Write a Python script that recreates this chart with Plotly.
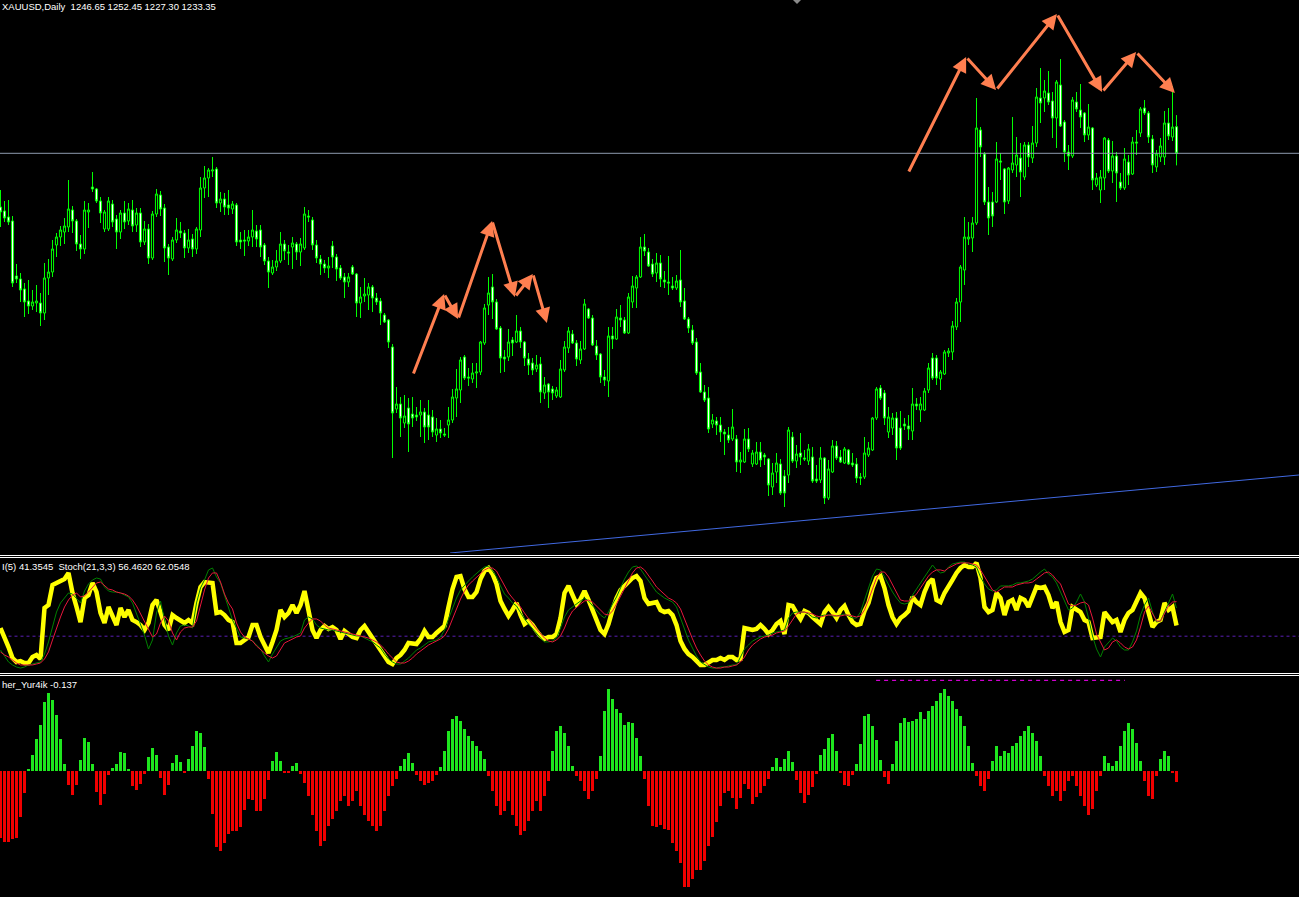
import plotly.graph_objects as go

# ---------------- price data (daily bars) ----------------
opens = [
1206.5,1204.5,1201.5,1199.5,1172,1170.5,1165.5,1159.5,1157,1158.5,
1158.5,1153.5,1171,1174,1187.5,1191.5,1194,1196.5,1205,1199.5,
1188,1185.5,1204,1216.5,1215.5,1209.5,1195.5,1195.5,1208,1200.5,
1194,1203.5,1199.5,1205,1197.5,1203.5,1189,1195.5,1181,1203,
1212.5,1206,1186.5,1180.5,1190,1194.5,1193.5,1186,1190.5,1185.5,
1195,1216,1221,1224.5,1225.5,1208.5,1210.5,1207.5,1205.5,1207.5,
1190,1190,1189.5,1191.5,1194.5,1195,1187.5,1179.5,1173.5,1176.5,
1179.5,1188,1184,1186.5,1188,1184,1186,1202,1200,1187.5,
1180.5,1178,1176,1187,1181.5,1176,1171.5,1169,1176.5,1173,
1158.5,1162,1162.5,1166.5,1161,1159.5,1152.5,1150,1136.5,1105.5,
1108,1098.5,1106,1103,1102.5,1102.5,1104,1102.5,1101.5,1092.5,
1095.5,1093,1097.5,1100,1111,1115,1131.5,1121.5,1120.5,1123.5,
1124,1138.5,1157.5,1166.5,1159,1146,1131.5,1131.5,1140,1139,
1144.5,1139,1130.5,1128.5,1125.5,1128,1113.5,1118,1115.5,1112,
1111.5,1125,1136,1143,1138.5,1130,1135.5,1155.5,1151,1137,
1133,1121.5,1119.5,1142,1140.5,1151,1150,1143.5,1159,1166,
1171.5,1186.5,1184,1178,1173.5,1178.5,1170,1169,1167,1166,
1170,1159.5,1150.5,1145,1139,1124,1114,1111,1098,1099.5,
1097.5,1094,1092.5,1090.5,1090.5,1079,1079,1090.5,1078,1078,
1084,1082.5,1080.5,1066.5,1074,1078,1072,1072.5,1091.5,1079.5,
1083.5,1081,1079.5,1081.5,1070.5,1070,1081,1061,1074,1087,
1081.5,1078.5,1085,1078.5,1078,1071.5,1071.5,1082.5,1085,1101,
1116,1113.5,1094,1096,1101,1096,1098,1097,1094.5,1108,
1105,1105,1115,1131,1131,1120.5,1123,1133.5,1134,1146.5,
1159,1175,1190.5,1191,1198.5,1245,1233,1209,1209,1209,
1229.5,1225.5,1209.5,1225,1227.5,1231,1221.5,1237.5,1231,1238.5,
1261,1261,1263.5,1259.5,1251,1267.5,1249,1234,1232,1259,
1255,1253.5,1242.5,1246,1217.5,1215,1221,1240,1224.5,1232,
1219,1216,1229,1223,1239,1243.5,1256,1253.5,1240.5,1226.5,
1231.5,1231.5,1248.5,1241.5,1246.65]
highs = [
1215,1209.5,1210,1202,1178,1173.5,1168.5,1170,1165,1167.5,
1163.5,1178.5,1180.5,1190,1193.5,1197,1201,1220,1207,1200.5,
1192.5,1209.5,1208.5,1224,1216,1211.5,1205,1211.5,1210,1202.5,
1205,1209.5,1208.5,1210,1206,1206,1199.5,1198,1204.5,1215.5,
1214.5,1208,1188,1191.5,1201,1199,1195,1195.5,1193,1196.5,
1221.5,1227,1226,1231.5,1226.5,1214,1213.5,1215,1209.5,1208.5,
1194,1195,1195,1205,1197.5,1197.5,1188.5,1181.5,1180,1185,
1194,1190,1187.5,1191.5,1189,1191,1206.5,1205,1201.5,1190,
1182.5,1180,1181.5,1189.5,1183,1177.5,1173.5,1173.5,1177.5,1173.5,
1166.5,1171,1168.5,1167.5,1163.5,1161,1153.5,1150.5,1138,1116.5,
1111.5,1112.5,1111,1111.5,1106.5,1110,1106,1110,1105,1101,
1100,1096,1106.5,1115.5,1125.5,1131.5,1132.5,1126,1128.5,1128.5,
1139.5,1158,1171.5,1173,1160.5,1147,1135,1145.5,1141.5,1152.5,
1146.5,1139.5,1133.5,1131,1132.5,1131.5,1121.5,1118.5,1117,1116.5,
1130,1139.5,1146.5,1145,1140,1139.5,1160.5,1156,1152.5,1140,
1133.5,1125,1146.5,1146.5,1155.5,1157.5,1151.5,1163.5,1172,1172.5,
1191.5,1193,1186,1180.5,1183.5,1182.5,1174.5,1182,1171.5,1172.5,
1185,1166,1151.5,1147.5,1141,1128.5,1117.5,1116.5,1103,1101.5,
1101.5,1095.5,1096.5,1105.5,1092.5,1084,1095.5,1096,1085,1089,
1089,1083.5,1081,1078.5,1083.5,1080.5,1075,1096.5,1094,1087.5,
1093.5,1085,1088,1086.5,1077.5,1086.5,1081.5,1080,1090,1089.5,
1085,1086.5,1085.5,1083.5,1081,1073.5,1091.5,1089,1101.5,1116.5,
1117.5,1115,1106.5,1103.5,1104,1104.5,1101,1102.5,1116,1111,
1111.5,1116,1128.5,1133.5,1132.5,1125,1135,1136,1149.5,1161,
1177.5,1201.5,1199,1201.5,1261,1246.5,1234,1216.5,1214,1239,
1233.5,1226,1226.5,1251.5,1241.5,1238.5,1239,1239,1247,1266,
1276,1270,1274.5,1264,1270,1280.5,1250,1237.5,1261.5,1264,
1268,1254,1258,1246.5,1223.5,1225,1241.5,1241,1239.5,1234,
1223.5,1236,1232.5,1241.5,1245,1256.5,1260,1254.5,1242.5,1235,
1241,1254.5,1256,1267,1252.45]
lows = [
1196.5,1199,1197.5,1166.5,1168.5,1159,1151.5,1153,1155,1154,
1147,1150,1162.5,1171.5,1181.5,1187,1188,1194,1193.5,1184.5,
1180.5,1183,1196,1214,1208.5,1198.5,1194,1194.5,1196.5,1185.5,
1190.5,1195.5,1197.5,1194,1194,1186.5,1187.5,1178,1180,1201.5,
1202,1179,1172.5,1179.5,1188.5,1191,1181,1183.5,1181.5,1183,
1191.5,1211,1211.5,1221.5,1206,1204,1202.5,1202.5,1203,1187,
1185.5,1182,1187,1186.5,1186.5,1181.5,1177.5,1166,1172.5,1174.5,
1178.5,1180,1177.5,1175.5,1180,1177,1185,1199,1185,1178.5,
1172.5,1173.5,1171,1176,1169.5,1170,1161,1166.5,1172.5,1151.5,
1151,1159,1155,1154,1157.5,1147.5,1148.5,1136,1081,1103.5,
1091.5,1096,1084,1096.5,1099.5,1091.5,1088.5,1090,1091.5,1089,
1091,1091.5,1091,1098.5,1101.5,1108.5,1120,1117,1118.5,1116,
1122.5,1137.5,1152.5,1150.5,1145,1123.5,1124,1129.5,1132,1138.5,
1136,1127,1122.5,1122.5,1124,1108.5,1110.5,1106,1110,1111,
1111,1124,1133.5,1138,1127,1128,1135,1150.5,1137,1130,
1118.5,1117,1111.5,1135.5,1140,1146.5,1143,1143,1156,1156,
1171,1182,1176.5,1171.5,1169,1166.5,1166,1162.5,1165,1165,
1156.5,1150,1143.5,1137.5,1122.5,1113.5,1109,1093.5,1096,1092.5,
1089,1082.5,1088.5,1089.5,1074,1073.5,1078.5,1084,1076.5,1077.5,
1076.5,1077.5,1062,1062.5,1068.5,1062.5,1056.5,1068.5,1078.5,1076,
1077.5,1079.5,1077.5,1068.5,1068.5,1068.5,1058,1060,1073.5,1080,
1078.5,1078,1077.5,1076.5,1068.5,1067.5,1070.5,1081.5,1084.5,1100,
1110,1097.5,1091,1092.5,1080,1085,1095,1090,1090,1105,
1099,1104.5,1113.5,1120,1117.5,1115,1122.5,1131.5,1130,1145,
1149,1167.5,1187.5,1184,1197.5,1231.5,1207.5,1192.5,1196.5,1208.5,
1220,1203,1208,1223.5,1221.5,1211.5,1220,1226.5,1228.5,1236.5,
1248.5,1254,1257.5,1241,1236,1246.5,1229,1225,1231,1254,
1246,1239,1240,1215,1216.5,1208.5,1215,1223.5,1218.5,1209,
1215,1215,1217.5,1222.5,1232.5,1241.5,1252.5,1238.5,1223.5,1224,
1229,1227.5,1240,1239.5,1227.30]
closes = [
1204,1201,1199,1168.5,1170.5,1165,1159,1157,1159,1159.5,
1153.5,1171,1174,1185.5,1191.5,1195,1197,1205.5,1199.5,1188,
1185.5,1205,1205,1215.5,1209.5,1203.5,1204,1209.5,1199,1194,
1203.5,1199,1205.5,1197,1203.5,1189,1195.5,1181,1203,1213,
1205.5,1186,1181,1190,1195,1193.5,1186,1190,1185.5,1195.5,
1216,1221,1225,1225,1208.5,1210.5,1206.5,1206,1208,1189,
1189,1189.5,1191.5,1195,1190.5,1186.5,1179.5,1174,1176.5,1179.5,
1188,1184.5,1183.5,1188.5,1184,1188,1203,1201.5,1187.5,1181,
1178,1176,1177,1181.5,1175.5,1171,1169,1171.5,1173,1158.5,
1161.5,1163,1166.5,1161,1159,1153.5,1149,1139,1103.5,1108,
1101,1102,1098,1101,1101.5,1104,1096.5,1096.5,1094,1095.5,
1093.5,1092.5,1100,1111.5,1115.5,1130,1121,1121,1123.5,1124,
1139,1156,1163.5,1159,1145.5,1131,1130.5,1139,1138.5,1144.5,
1139,1131,1127.5,1125,1127.5,1114,1117.5,1114,1113.5,1115,
1125.5,1136.5,1144.5,1138.5,1130.5,1135.5,1158,1151,1137.5,1132.5,
1121.5,1120,1142,1140.5,1151.5,1150,1143.5,1161.5,1167,1171.5,
1186.5,1184.5,1177,1173,1178.5,1170.5,1169,1168.5,1166,1169.5,
1159,1150.5,1146,1138.5,1123.5,1114,1110,1095.5,1100,1097.5,
1094,1093,1090,1096.5,1079,1080,1090.5,1085.5,1083.5,1084,
1080,1081.5,1067.5,1073.5,1078.5,1063.5,1063.5,1095,1079.5,1083,
1081.5,1080.5,1085.5,1069.5,1069.5,1081,1061,1075.5,1087,1081,
1079,1085.5,1078,1077.5,1071,1071,1083.5,1086,1101,1115.5,
1111,1101,1101.5,1101,1086,1086,1097,1095.5,1108,1107,
1108,1114.5,1126,1121,1121,1124,1134,1134.5,1147,1159,
1176.5,1191.5,1191.5,1198.5,1246,1236.5,1209,1201,1202,1230.5,
1229,1209,1226,1228.5,1232.5,1224,1237.5,1231.5,1238.5,1261.5,
1258.5,1264.5,1259,1251,1269,1247,1234,1232,1260,1255.5,
1251.5,1242.5,1246.5,1220,1221,1221.5,1241,1224.5,1232,1223.5,
1216,1230.5,1222.5,1239,1238.5,1255.5,1253.5,1241.5,1227.5,1233,
1237,1248.5,1242,1246.5,1233.35]

# ---------------- oscillator window: RSI(5) + Stoch(21,3,3) ----------------
rsi = [
39.1,31.3,22.6,13.0,9.6,10.4,8.7,8.7,13.9,15.7,
12.2,56.5,59.1,76.5,78.3,80.9,81.7,87.0,69.6,57.4,
44.3,65.2,67.8,78.3,70.4,52.2,43.5,57.4,50.4,41.7,
56.5,48.7,54.8,46.1,44.3,41.7,37.4,43.5,59.1,63.5,
53.0,41.7,37.4,50.4,47.8,46.1,43.5,46.1,43.5,60.9,
74.8,79.1,79.1,78.3,52.2,53.0,50.4,46.1,44.3,26.1,
26.1,28.7,31.3,41.7,41.7,31.3,24.3,17.4,27.0,37.4,
54.8,48.7,52.2,59.1,52.2,59.1,71.3,53.9,37.4,30.4,
37.4,40.9,38.3,40.0,37.4,29.6,36.5,33.9,31.3,30.4,
37.4,40.9,35.7,30.4,26.1,20.0,15.7,9.6,7.8,13.0,
15.7,20.0,26.1,26.1,25.2,29.6,36.5,31.3,31.3,34.8,
37.4,40.9,57.4,73.0,83.5,84.3,73.0,66.1,66.1,70.4,
81.7,88.7,91.3,86.1,77.4,62.6,55.7,49.6,54.8,60.9,
50.4,42.6,45.2,41.7,36.5,32.2,29.6,31.3,31.3,33.9,
47.8,69.6,75.7,67.8,60.0,64.3,71.3,63.5,54.8,47.8,
37.4,33.9,42.6,54.8,65.2,72.2,75.7,79.1,82.6,84.3,
80.0,65.2,60.0,60.9,61.7,54.8,53.0,53.9,50.4,41.7,
27.8,20.9,16.5,13.9,10.4,7.0,7.0,9.6,11.3,11.3,
13.0,11.3,13.9,13.9,11.3,12.2,39.1,38.3,37.4,38.3,
41.7,38.3,33.9,37.4,42.6,45.2,33.9,59.1,58.3,52.2,
47.0,53.9,52.2,48.7,45.2,42.6,53.0,57.4,53.0,47.8,
54.8,58.3,50.4,44.3,41.7,42.6,53.9,60.9,73.9,82.6,
84.3,73.9,59.1,48.7,42.6,47.8,50.4,53.9,66.1,61.7,
59.1,70.4,78.3,81.7,63.5,61.7,69.6,74.8,80.9,87.0,
91.3,93.9,92.2,92.2,95.7,82.6,57.4,53.0,54.8,69.6,
65.2,50.4,61.7,63.5,54.8,65.2,63.5,57.4,66.1,74.8,
73.9,74.8,67.8,56.5,61.7,44.3,35.7,37.4,57.4,54.8,
53.0,46.1,44.3,30.4,30.4,31.3,53.0,48.7,44.3,46.1,
35.7,46.1,52.2,54.8,63.5,69.6,65.2,53.0,40.0,44.3,
46.1,60.9,54.8,57.4,41.3545]
stoch_main = [
20.0,14.8,9.6,7.0,5.2,4.3,5.2,7.0,7.8,8.7,
9.6,16.5,27.0,40.0,53.0,60.9,65.2,69.6,68.7,65.2,
60.9,71.3,77.4,80.9,82.6,81.7,74.8,71.3,70.4,70.4,
69.6,67.8,66.1,60.9,51.3,42.6,33.0,20.9,28.7,52.2,
62.6,46.1,32.2,24.3,34.8,40.9,41.7,40.9,39.1,60.9,
73.9,80.9,89.6,91.3,83.5,78.3,67.0,56.5,46.1,39.1,
31.3,30.4,29.6,27.8,24.3,20.9,14.8,9.6,16.5,22.6,
27.8,29.6,30.4,31.3,33.0,34.8,46.1,48.7,47.0,41.7,
39.1,38.3,37.4,37.4,36.5,35.7,34.8,33.9,33.0,32.2,
32.2,30.4,28.7,27.0,24.3,21.7,16.5,12.2,9.6,7.8,
7.8,10.4,13.0,16.5,20.0,21.7,24.3,27.0,27.8,28.7,
31.3,37.4,47.0,56.5,65.2,72.2,76.5,80.0,83.5,87.0,
89.6,92.2,93.0,88.7,83.5,75.7,68.7,65.2,60.9,58.3,
52.2,47.0,42.6,38.3,33.9,30.4,27.0,27.0,27.8,30.4,
39.1,48.7,54.8,57.4,60.0,62.6,65.2,62.6,58.3,54.8,
50.4,47.8,53.0,60.0,66.1,73.9,81.7,87.8,92.2,93.0,
90.4,85.2,80.0,74.8,70.4,67.8,65.2,63.5,61.7,57.4,
47.8,37.4,28.7,21.7,14.8,9.6,7.0,5.2,4.3,4.3,
5.2,5.2,6.1,7.0,7.0,13.9,20.9,24.3,27.8,29.6,
31.3,32.2,33.0,34.8,35.7,36.5,37.4,47.8,52.2,53.0,
53.0,53.0,51.3,48.7,47.8,49.6,50.4,50.4,49.6,49.6,
50.4,51.3,49.6,47.8,47.8,53.0,63.5,73.9,84.3,90.4,
89.6,83.5,76.5,70.4,65.2,60.9,60.0,60.9,67.8,73.0,
79.1,84.3,89.6,93.9,89.6,87.0,87.8,92.2,94.8,95.7,
96.5,96.5,94.8,93.9,92.2,83.5,77.4,73.0,71.3,72.2,
75.7,75.7,75.7,76.5,78.3,78.3,79.1,80.0,81.7,85.2,
87.8,90.4,86.1,83.5,78.3,70.4,62.6,54.8,56.5,61.7,
68.7,61.7,47.8,32.2,20.9,13.9,22.6,27.0,30.4,27.8,
22.6,20.0,20.0,27.0,36.5,50.4,59.1,65.2,53.0,44.3,
45.2,53.0,60.9,68.7,56.462]
stoch_signal = [
18.3,15.7,13.9,11.3,8.7,7.0,7.0,7.0,7.0,7.8,
8.7,12.2,18.3,28.7,39.1,48.7,57.4,63.5,67.8,69.6,
66.1,67.0,70.4,74.8,78.3,79.1,75.7,73.0,72.2,70.4,
69.6,68.7,67.0,63.5,58.3,51.3,44.3,37.4,31.3,33.9,
43.5,49.6,45.2,34.8,28.7,35.7,39.1,40.0,40.0,45.2,
58.3,72.2,82.6,87.0,87.0,79.1,68.7,60.9,55.7,43.5,
35.7,31.3,29.6,27.8,23.5,20.0,17.4,14.8,13.0,14.8,
20.0,26.1,27.8,29.6,31.3,32.2,39.1,43.5,47.0,47.0,
45.2,41.7,39.1,38.3,37.4,36.5,35.7,34.8,33.9,33.0,
32.2,31.3,30.4,28.7,27.0,24.3,20.9,16.5,13.0,9.6,
8.7,8.7,10.4,13.0,16.5,19.1,21.7,24.3,26.1,27.8,
29.6,32.2,38.3,47.0,56.5,64.3,71.3,76.5,80.0,83.5,
87.0,89.6,91.3,91.3,88.7,82.6,75.7,69.6,65.2,61.7,
57.4,52.2,47.0,42.6,38.3,33.9,30.4,27.8,27.0,28.7,
32.2,39.1,47.8,53.9,57.4,60.0,62.6,63.5,61.7,58.3,
54.8,51.3,50.4,53.9,60.0,67.0,73.9,80.9,87.0,91.3,
92.2,89.6,85.2,80.0,74.8,71.3,67.8,65.2,63.5,60.9,
55.7,47.8,38.3,29.6,21.7,15.7,10.4,7.0,5.2,4.3,
4.3,5.2,5.2,6.1,7.0,9.6,13.9,20.0,24.3,27.0,
29.6,31.3,32.2,33.0,34.8,35.7,36.5,40.9,46.1,51.3,
53.0,53.0,52.2,51.3,49.6,48.7,49.6,50.4,50.4,49.6,
49.6,50.4,50.4,49.6,48.7,49.6,54.8,63.5,73.9,82.6,
87.8,87.8,83.5,76.5,70.4,63.5,62.6,62.6,65.2,68.7,
73.9,79.1,84.3,87.8,89.6,89.6,88.7,91.3,93.0,94.8,
95.7,95.7,95.7,94.8,93.9,89.6,83.5,77.4,72.2,70.4,
73.0,74.8,74.8,74.8,76.5,77.4,78.3,78.3,79.1,81.7,
84.3,87.0,87.8,85.2,80.9,77.4,68.7,60.0,58.3,59.1,
60.9,61.7,59.1,47.8,33.9,27.0,20.0,21.7,27.0,28.7,
26.1,22.6,20.9,22.6,28.7,40.0,53.0,58.3,52.2,45.2,
45.2,51.3,58.3,61.7,62.0548]
osc_level = 32

# ---------------- Fisher_Yur4ik histogram ----------------
fisher = [
-0.84,-0.89,-0.89,-0.86,-0.84,-0.575,-0.275,0.025,0.2,0.4,
0.575,0.86,0.975,0.89,0.7,0.4,0.09,-0.175,-0.3,-0.175,
0.14,0.41,0.36,0.09,-0.26,-0.425,-0.29,-0.05,0.04,0.09,
0.24,0.225,0.025,-0.19,-0.24,-0.16,-0.04,0.175,0.29,0.2,
-0.09,-0.3,-0.175,0.1,0.2,0.11,-0.025,0.15,0.31,0.5,
0.475,0.3,-0.1,-0.54,-0.96,-1.01,-0.9,-0.79,-0.76,-0.76,
-0.71,-0.49,-0.35,-0.36,-0.5,-0.5,-0.35,-0.11,0.125,0.24,
0.125,-0.025,-0.025,0.06,0.1,-0.04,-0.15,-0.31,-0.56,-0.75,
-0.94,-0.875,-0.69,-0.6,-0.5,-0.375,-0.31,-0.44,-0.375,-0.25,
-0.44,-0.56,-0.625,-0.69,-0.75,-0.69,-0.5,-0.31,-0.19,-0.1,
0.06,0.15,0.225,0.1,-0.05,-0.125,-0.175,-0.15,-0.125,-0.05,
0.05,0.25,0.5,0.65,0.69,0.625,0.525,0.44,0.375,0.31,
0.25,0.15,-0.06,-0.25,-0.44,-0.56,-0.5,-0.375,-0.56,-0.69,
-0.81,-0.75,-0.625,-0.5,-0.375,-0.5,-0.31,-0.125,0.25,0.5,
0.56,0.475,0.31,0.06,-0.06,-0.125,-0.25,-0.35,-0.25,-0.1,
0.19,0.75,1.025,0.9,0.775,0.725,0.575,0.61,0.6,0.41,
0.19,-0.1,-0.44,-0.69,-0.7,-0.675,-0.725,-0.74,-0.9,-1.01,
-1.15,-1.45,-1.46,-1.35,-1.24,-1.24,-1.125,-0.94,-0.825,-0.64,
-0.44,-0.275,-0.25,-0.34,-0.475,-0.34,-0.16,-0.225,-0.41,-0.325,
-0.275,-0.19,-0.1,0.05,0.16,0.05,0.15,0.25,0.11,-0.11,
-0.275,-0.4,-0.3,-0.2,-0.04,0.2,0.275,0.41,0.46,0.25,
-0.025,-0.175,-0.19,-0.05,0.09,0.34,0.69,0.71,0.56,0.39,
0.14,-0.075,-0.16,0.09,0.375,0.6,0.66,0.61,0.625,0.65,
0.74,0.65,0.75,0.81,0.875,0.975,1.025,0.94,0.875,0.775,
0.69,0.56,0.31,0.1,-0.06,-0.19,-0.25,-0.1,0.125,0.31,
0.19,0.25,0.225,0.31,0.35,0.44,0.5,0.56,0.475,0.375,
0.19,-0.06,-0.19,-0.31,-0.25,-0.375,-0.25,-0.125,-0.06,-0.19,
-0.31,-0.44,-0.56,-0.475,-0.25,-0.06,0.19,0.1,0.06,0.125,
0.31,0.5,0.6,0.525,0.35,0.125,-0.125,-0.31,-0.35,-0.06,
0.15,0.25,0.19,-0.025,-0.137]

bid_price = 1233.35
trend_x = [112.4, 324.6]          # bar index
trend_y = [1033.5, 1072.5]        # price
arrows1_x = [103.1, 110.9, 114.4, 122.9, 128.6, 133.1, 136.6]
arrows1_y = [1122.5, 1163, 1150.5, 1199.5, 1161.5, 1173, 1148.5]
arrows2_x = [226.9, 241.4, 248.9, 264.1, 275.4, 283.9, 293.6]
arrows2_y = [1223.5, 1281.5, 1265, 1303, 1264, 1284, 1263.5]
fish_line_x = [218.9, 281.1]
fish_line_y = [1.13, 1.13]

header = "XAUUSD,Daily\u00a0\u00a01246.65 1252.45 1227.30 1233.35"
mid_label = "I(5) 41.3545\u00a0\u00a0Stoch(21,3,3) 56.4620 62.0548"
low_label = "her_Yur4ik -0.137"

# ---------------- figure ----------------
W, H = 1299, 897
idx = list(range(len(closes)))

def py(p):
    return 1 - p / H

fig = go.Figure()
fig.add_trace(go.Candlestick(
    x=idx, open=opens, high=highs, low=lows, close=closes,
    increasing=dict(line=dict(color="#00FF00", width=1), fillcolor="#000000"),
    decreasing=dict(line=dict(color="#00FF00", width=1), fillcolor="#FFFFFF"),
    whiskerwidth=0, showlegend=False, hoverinfo="skip", xaxis="x", yaxis="y"))
fig.add_trace(go.Scatter(x=trend_x, y=trend_y, mode="lines",
    line=dict(color="#4169E1", width=1), showlegend=False, hoverinfo="skip",
    xaxis="x", yaxis="y"))

fig.add_trace(go.Scatter(x=[idx[0] - 1, idx[-1] + 40], y=[osc_level, osc_level], mode="lines",
    line=dict(color="#5A1FB4", width=1, dash="3px,3px"), showlegend=False, hoverinfo="skip",
    xaxis="x2", yaxis="y2"))
fig.add_trace(go.Scatter(x=idx, y=rsi, mode="lines", line=dict(color="#FFFF00", width=4.5),
    showlegend=False, hoverinfo="skip", xaxis="x2", yaxis="y2"))
fig.add_trace(go.Scatter(x=idx, y=stoch_main, mode="lines", line=dict(color="#008000", width=1),
    showlegend=False, hoverinfo="skip", xaxis="x2", yaxis="y2"))
fig.add_trace(go.Scatter(x=idx, y=stoch_signal, mode="lines", line=dict(color="#E8173C", width=1),
    showlegend=False, hoverinfo="skip", xaxis="x2", yaxis="y2"))

fig.add_trace(go.Bar(x=idx, y=fisher, width=0.75,
    marker=dict(color=["#1EE61E" if v >= 0 else "#F00000" for v in fisher], line=dict(width=0)),
    showlegend=False, hoverinfo="skip", xaxis="x3", yaxis="y3"))
fig.add_trace(go.Scatter(x=fish_line_x, y=fish_line_y, mode="lines",
    line=dict(color="#FF00FF", width=1, dash="4px,4px"), showlegend=False,
    hoverinfo="skip", xaxis="x3", yaxis="y3"))

xr = [-0.125, 324.625]
ax_common = dict(visible=False, showgrid=False, zeroline=False, fixedrange=True)
fig.update_layout(
    width=W, height=H, autosize=False,
    margin=dict(l=0, r=0, t=0, b=0, pad=0),
    paper_bgcolor="#000000", plot_bgcolor="#000000",
    boxgap=0.25, bargap=0, showlegend=False,
    xaxis=dict(range=xr, anchor="y", rangeslider=dict(visible=False), **ax_common),
    xaxis2=dict(range=xr, anchor="y2", matches="x", **ax_common),
    xaxis3=dict(range=xr, anchor="y3", matches="x", **ax_common),
    yaxis=dict(range=[1033.5, 1310], domain=[py(553), 1.0], anchor="x", **ax_common),
    yaxis2=dict(range=[0, 100], domain=[py(673), py(558)], anchor="x2", **ax_common),
    yaxis3=dict(range=[-1.579, 1.184], domain=[0.0, py(676)], anchor="x3", **ax_common),
)

shapes = [dict(type="line", xref="paper", x0=0, x1=1, yref="y", y0=bid_price, y1=bid_price,
               line=dict(color="#8E9AAE", width=1))]
for yy in (555.5, 557.5, 673.5, 675.5):
    shapes.append(dict(type="line", xref="paper", x0=0, x1=1, yref="paper", y0=py(yy), y1=py(yy),
                       line=dict(color="#FFFFFF", width=1)))
shapes.append(dict(type="path", xref="paper", yref="paper",
                   path=f"M {793/W},{py(0)} L {801/W},{py(0)} L {797/W},{py(4)} Z",
                   fillcolor="#8A8A8A", line=dict(width=0)))
fig.update_layout(shapes=shapes)

ann = []
for xs, ys in ((arrows1_x, arrows1_y), (arrows2_x, arrows2_y)):
    for k in range(1, len(xs)):
        ann.append(dict(x=xs[k], y=ys[k], ax=xs[k-1], ay=ys[k-1], xref="x", yref="y",
                        axref="x", ayref="y", text="", showarrow=True, arrowhead=2,
                        arrowsize=1.0, arrowwidth=3, arrowcolor="#FF7F50", standoff=0))
font = dict(family="Liberation Sans, Arial, sans-serif", size=9.5, color="#FFFFFF")
for txt, yy in ((header, 7), (mid_label, 566.5), (low_label, 684)):
    ann.append(dict(x=0, y=py(yy), xref="paper", yref="paper", xanchor="left", yanchor="middle",
                    text=txt, showarrow=False, font=font))
fig.update_layout(annotations=ann)

fig.write_html("out.html", config={"displayModeBar": False},
               post_script="document.body.style.margin='0';document.body.style.background='#000';")
